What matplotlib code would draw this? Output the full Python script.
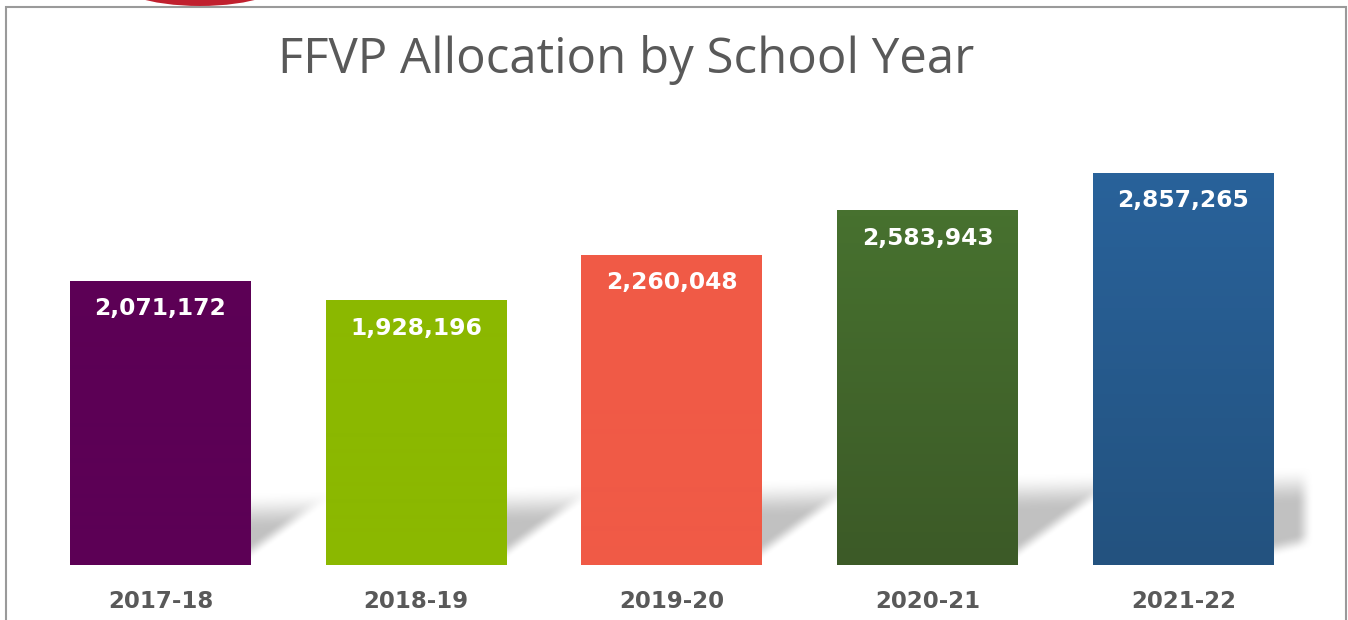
import numpy as np
import matplotlib
matplotlib.use("Agg")
import matplotlib.pyplot as plt
from matplotlib.patches import Rectangle, Ellipse
from matplotlib.colors import to_rgb

# ---- data ----
years = ["2017-18", "2018-19", "2019-20", "2020-21", "2021-22"]
allocations = [2071172, 1928196, 2260048, 2583943, 2857265]
top_colors = ["#5C0055", "#8BB800", "#F05A46", "#47712F", "#29629A"]
bottom_colors = ["#5C0055", "#8BB800", "#F05A46", "#3C5A27", "#23527F"]
title = "FFVP Allocation by School Year"

W, H = 1348, 620
fig = plt.figure(figsize=(W / 100, H / 100), dpi=100)
fig.patch.set_facecolor("white")

# axes geometry (pixels)
base_px = 565
top_px = 90
unit_per_px = 2857265 / 392.0
xstep_px = 255.75
x0_px = 160.5
ax = fig.add_axes([0, (H - base_px) / H, 1, (base_px - top_px) / H])
ax.set_xlim(-x0_px / xstep_px, (W - x0_px) / xstep_px)
ax.set_ylim(0, (base_px - top_px) * unit_per_px)
ax.set_facecolor("none")
for s in ax.spines.values():
    s.set_visible(False)
ax.yaxis.set_visible(False)

bar_w = 181 / xstep_px
x = np.arange(len(years))

# ---- soft shadow band behind the bars ----
def px_x(xd):
    return x0_px + xd * xstep_px

def px_y(yd):
    return base_px - yd / unit_per_px

xs = np.linspace(ax.get_xlim()[0], ax.get_xlim()[1], 1348)
ys = np.linspace(0, 140 * unit_per_px, 280)
XX, YY = np.meshgrid(xs, ys)
PX, PY = px_x(XX), px_y(YY)

def smooth(t):
    t = np.clip(t, 0, 1)
    return t * t * (3 - 2 * t)

alpha = np.zeros_like(PX)
for i in range(len(years)):
    xr = px_x(x[i] + bar_w / 2)
    if i < len(years) - 1:
        xn = px_x(x[i + 1] - bar_w / 2)
        yb0, yb1 = 560, 505
    else:
        xn = xr + 40
        yb0, yb1 = 558, 548
    inside = (PX >= xr - 2) & (PX <= xn + 2)
    frac = (PX - xr) / (xn - xr)
    ptop = 492 - (PX - 253) * (26 / 1057)
    pbot = yb0 + (yb1 - yb0) * frac
    a = smooth((PY - ptop) / 38) * smooth((pbot - PY) / 18)
    if i == len(years) - 1:
        a = a * smooth((xn - PX) / 18)
    alpha = np.where(inside, np.maximum(alpha, a), alpha)

img = np.zeros(PX.shape + (4,))
img[..., :3] = 0.74
img[..., 3] = alpha * 0.92
ax.imshow(img, extent=(xs[0], xs[-1], ys[0], ys[-1]), origin="lower",
          aspect="auto", zorder=1, interpolation="bilinear")

# ---- bars ----
bars = ax.bar(x, allocations, width=bar_w, color=top_colors, zorder=2, linewidth=0)
for b, c1, c2 in zip(bars, top_colors, bottom_colors):
    r1, r2 = np.array(to_rgb(c1)), np.array(to_rgb(c2))
    t = np.linspace(0, 1, 64)[:, None]
    grad = (r2 * (1 - t) + r1 * t)[:, None, :]
    im = ax.imshow(grad, extent=(b.get_x(), b.get_x() + b.get_width(), 0, b.get_height()),
                   origin="lower", aspect="auto", zorder=3)
    im.set_clip_path(b)

# value labels
for xi, v in zip(x, allocations):
    ax.annotate(f"{v:,}", (xi, v), xytext=(0, -28 * 0.72), textcoords="offset points",
                ha="center", va="center", color="white", fontsize=16.8,
                fontweight="bold", family="DejaVu Sans", zorder=4)

ax.set_xticks(x)
ax.set_xticklabels(years, fontsize=16.5, fontweight="bold", color="#595959",
                   family="DejaVu Sans")
ax.tick_params(axis="x", length=0, pad=18)

# title
fig.text(626 / W, 1 - 60 / H, title, ha="center", va="center", fontsize=35.4,
         color="#595959", family="Open Sans")

# frame and red tab
fig.patches.append(Ellipse((200 / W, 1 + 24 / H), 183 / W, 60 / H,
                           transform=fig.transFigure, facecolor="#C0202E",
                           edgecolor="none", zorder=0))
fig.patches.append(Rectangle((6 / W, -0.05), 1340 / W, 1.05 - 7 / H,
                             transform=fig.transFigure, fill=False,
                             edgecolor="#9A9A9A", linewidth=1.5, zorder=1))

fig.savefig("out.png", dpi=100, facecolor="white")
